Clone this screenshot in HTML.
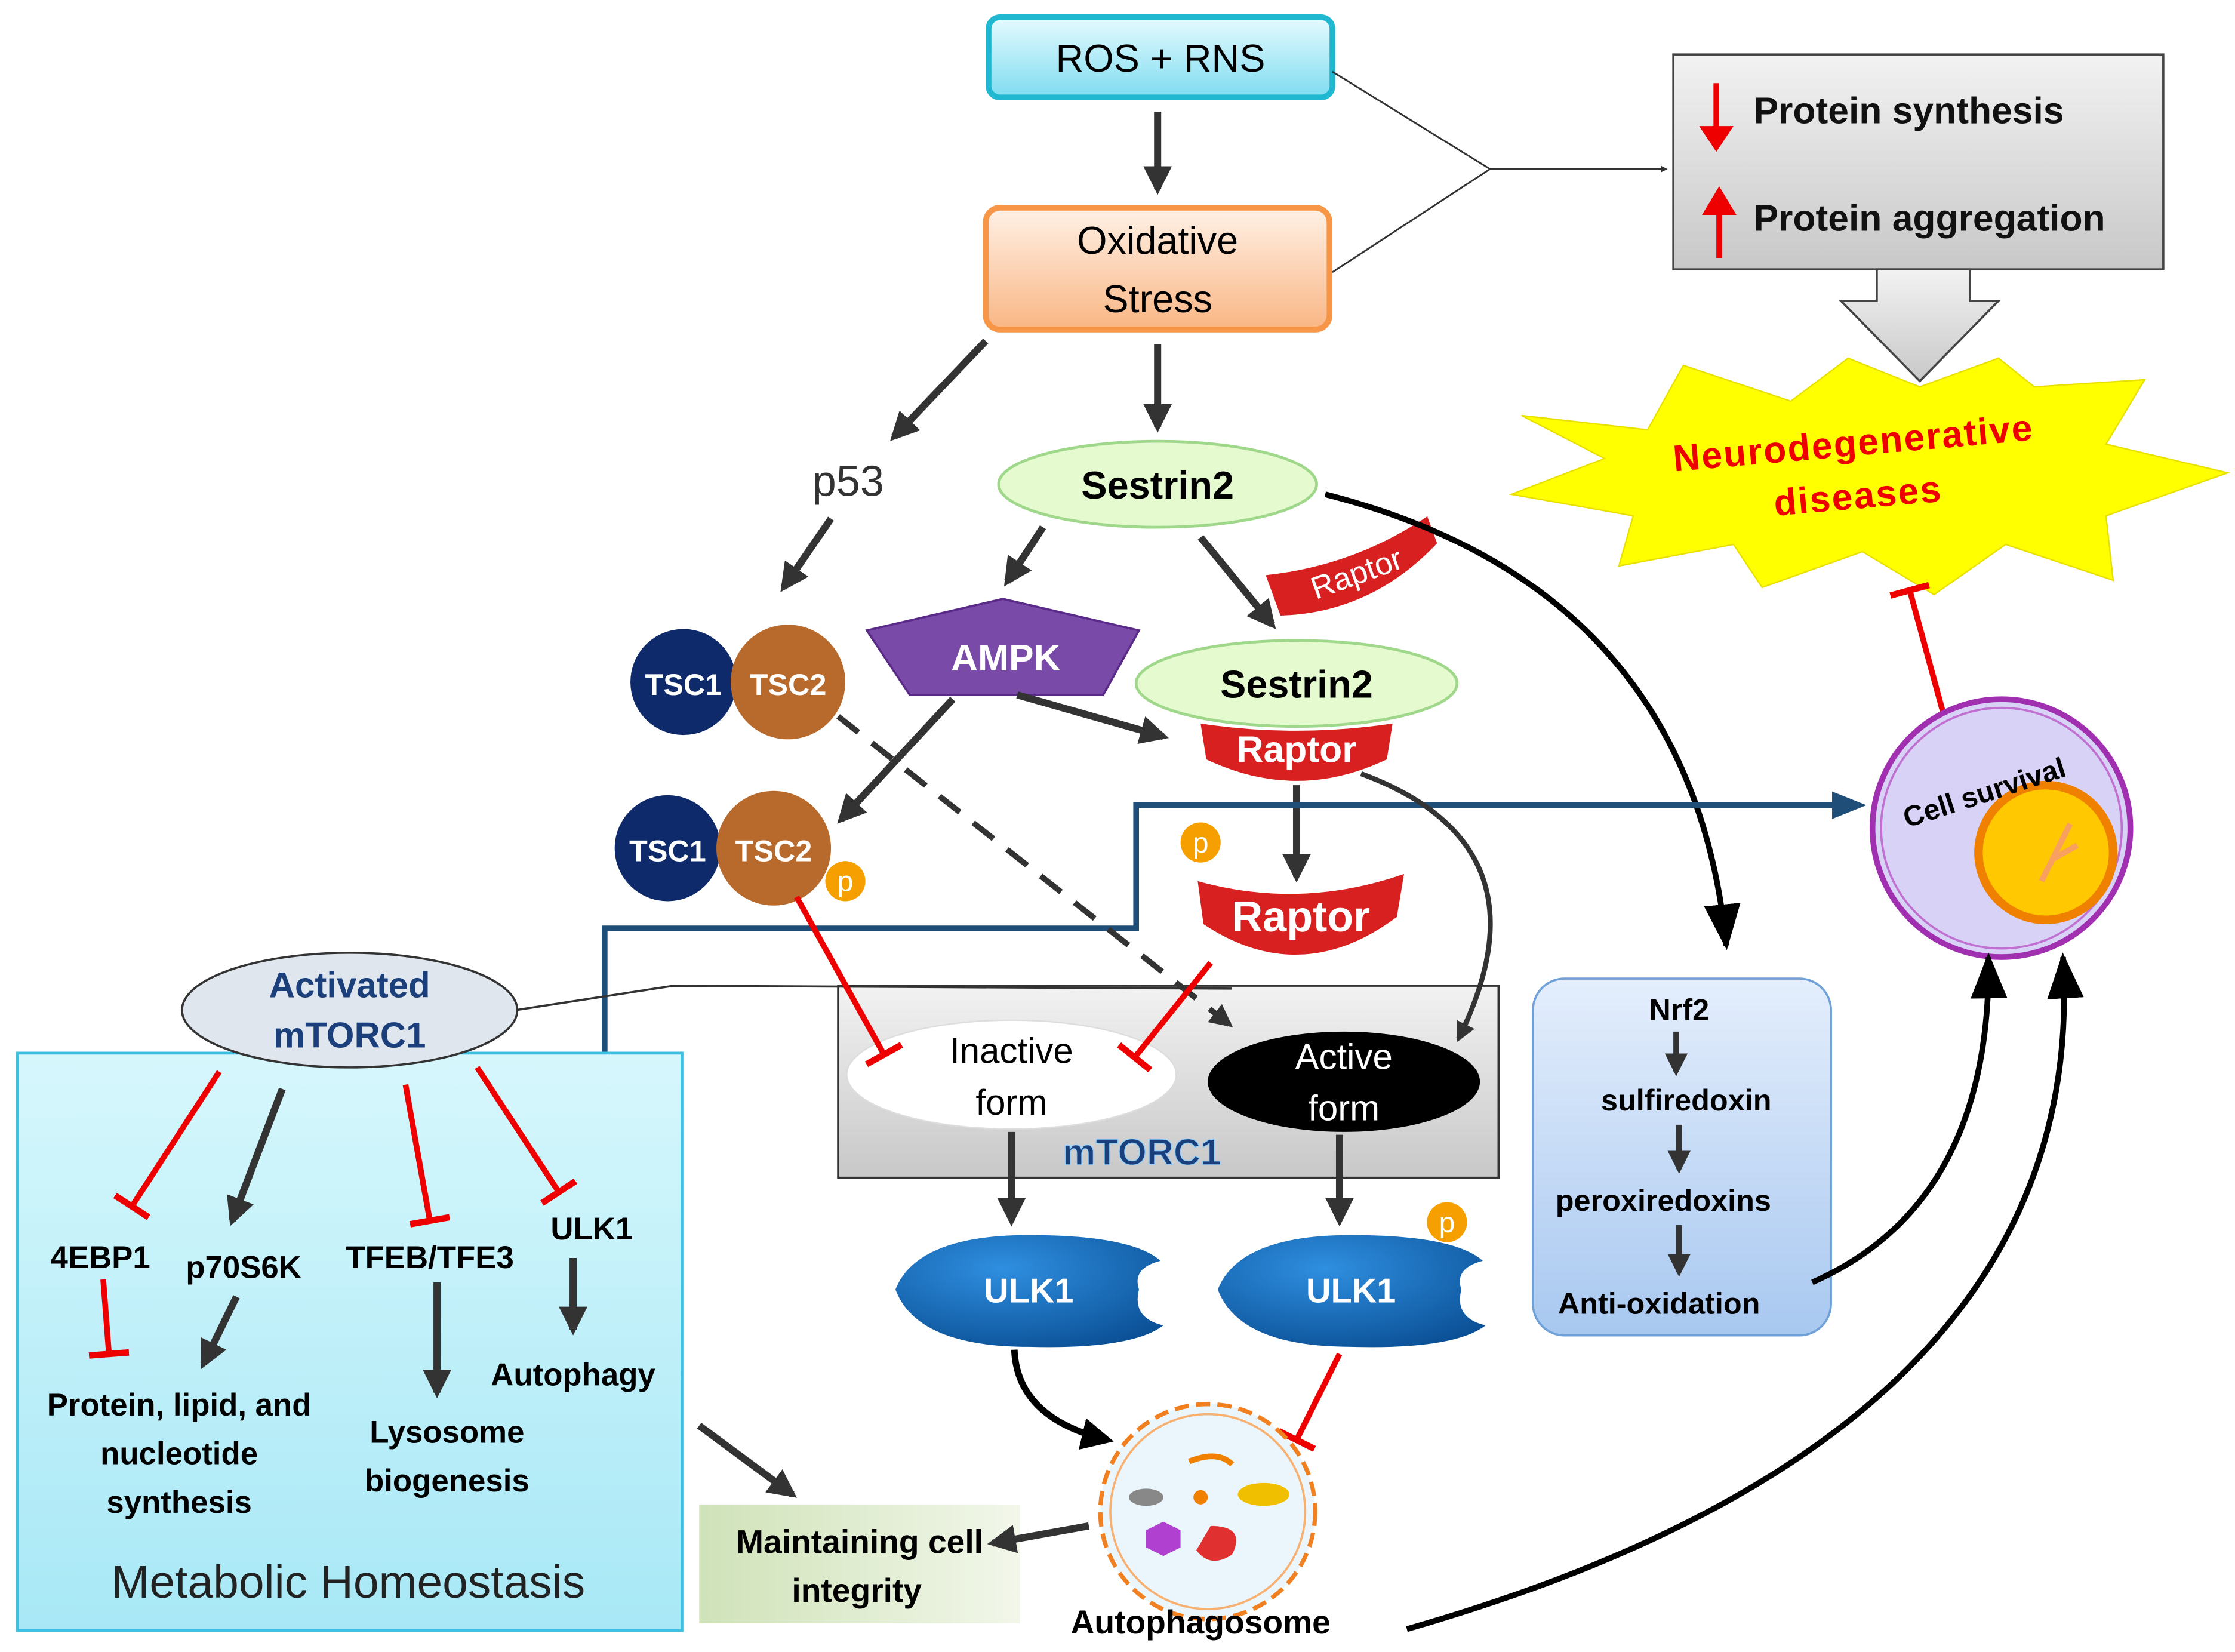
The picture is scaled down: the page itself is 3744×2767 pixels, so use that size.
<!DOCTYPE html>
<html><head><meta charset="utf-8"><style>
html,body{margin:0;padding:0;background:#fff;}
svg{display:block;}
text{font-family:"Liberation Sans",sans-serif;}
</style></head><body>
<svg width="3744" height="2767" viewBox="0 0 1560 1153" xmlns="http://www.w3.org/2000/svg">
<defs>
<marker id="a" viewBox="0 0 10 10" refX="8" refY="5" markerWidth="4" markerHeight="4" orient="auto"><path d="M0,0 L10,5 L0,10 z" fill="#333"/></marker>
<marker id="ak" viewBox="0 0 10 10" refX="8" refY="5" markerWidth="5" markerHeight="5" orient="auto"><path d="M0,0 L10,5 L0,10 z" fill="#000"/></marker>
<marker id="ab" viewBox="0 0 10 10" refX="8" refY="5" markerWidth="6" markerHeight="6" orient="auto"><path d="M0,1 L10,5 L0,9 z" fill="#1f4e79"/></marker>
<marker id="at" viewBox="0 0 10 10" refX="9" refY="5" markerWidth="8" markerHeight="8" orient="auto"><path d="M0,1 L10,5 L0,9 z" fill="#000"/></marker>
<marker id="t" viewBox="0 0 10 10" refX="5" refY="5" markerWidth="7" markerHeight="7" orient="auto"><path d="M5,0 L5,10" stroke="#e00" stroke-width="1.6"/></marker>
<linearGradient id="gc" x1="0" y1="0" x2="0" y2="1"><stop offset="0" stop-color="#e6fbff"/><stop offset="1" stop-color="#7fdcf0"/></linearGradient>
<linearGradient id="go" x1="0" y1="0" x2="0" y2="1"><stop offset="0" stop-color="#fff1e6"/><stop offset="1" stop-color="#f9b684"/></linearGradient>
<linearGradient id="gg" x1="0" y1="0" x2="0" y2="1"><stop offset="0" stop-color="#f2f2f2"/><stop offset="1" stop-color="#c8c8c8"/></linearGradient>
<linearGradient id="gl" x1="0" y1="0" x2="0" y2="1"><stop offset="0" stop-color="#d6f7fc"/><stop offset="1" stop-color="#a8e8f6"/></linearGradient>
<linearGradient id="gn" x1="0" y1="0" x2="0" y2="1"><stop offset="0" stop-color="#e4eefc"/><stop offset="1" stop-color="#a8c8f0"/></linearGradient>
<linearGradient id="gm" x1="0" y1="0" x2="1" y2="0"><stop offset="0" stop-color="#cfe2b8"/><stop offset="1" stop-color="#f2f7ea"/></linearGradient>
<radialGradient id="gu" cx="0.4" cy="0.3" r="0.8"><stop offset="0" stop-color="#2f8fe0"/><stop offset="1" stop-color="#0a4f95"/></radialGradient>
</defs>

<!-- background boxes first -->
<rect x="585" y="688" width="461" height="134" fill="url(#gg)" stroke="#333" stroke-width="1.5"/>
<rect x="488" y="1050" width="224" height="83" fill="url(#gm)"/>

<!-- top -->
<rect x="690" y="12" width="240" height="56" rx="8" fill="url(#gc)" stroke="#1fb8d0" stroke-width="4"/>
<text x="810" y="50" font-size="27" text-anchor="middle">ROS + RNS</text>
<line x1="808" y1="78" x2="808" y2="132" stroke="#333" stroke-width="5" marker-end="url(#a)"/>
<rect x="688" y="145" width="240" height="85" rx="10" fill="url(#go)" stroke="#f79646" stroke-width="4"/>
<text x="808" y="177" font-size="27" text-anchor="middle">Oxidative</text>
<text x="808" y="218" font-size="27" text-anchor="middle">Stress</text>
<path d="M930,50 L1040,118 L930,190" fill="none" stroke="#333" stroke-width="1.2"/>
<line x1="1040" y1="118" x2="1163" y2="118" stroke="#333" stroke-width="1.2" marker-end="url(#a)"/>

<rect x="1168" y="38" width="342" height="150" fill="url(#gg)" stroke="#444" stroke-width="1.5"/>
<line x1="1198" y1="58" x2="1198" y2="92" stroke="#e00" stroke-width="4"/><path d="M1186,88 L1210,88 L1198,106z" fill="#e00"/>
<line x1="1200" y1="180" x2="1200" y2="145" stroke="#e00" stroke-width="4"/><path d="M1188,150 L1212,150 L1200,130z" fill="#e00"/>
<text x="1224" y="86" font-size="26" font-weight="bold" fill="#111">Protein synthesis</text>
<text x="1224" y="161" font-size="26" font-weight="bold" fill="#111">Protein aggregation</text>
<path d="M1310,188 L1375,188 L1375,210 L1395,210 L1340,266 L1285,210 L1310,210z" fill="url(#gg)" stroke="#444" stroke-width="1.5"/>

<polygon points="1062,290 1150,300 1175,255 1250,280 1290,250 1340,270 1395,250 1420,270 1497,265 1470,310 1555,330 1470,360 1475,405 1400,380 1350,415 1300,385 1230,410 1210,380 1130,395 1140,360 1055,345 1120,320" fill="#ffff00" stroke="#e8e000" stroke-width="1"/>
<g transform="rotate(-5 1295 325)">
<text x="1295" y="318" font-size="26" font-weight="bold" fill="#e00" text-anchor="middle" letter-spacing="1">Neurodegenerative</text>
<text x="1295" y="355" font-size="26" font-weight="bold" fill="#e00" text-anchor="middle" letter-spacing="1">diseases</text>
</g>
<line x1="1357" y1="500" x2="1333" y2="412" stroke="#e00" stroke-width="4" marker-end="url(#t)"/>

<!-- cell survival -->
<circle cx="1397" cy="578" r="90" fill="#d9d2f7" stroke="#a030b0" stroke-width="4"/>
<circle cx="1397" cy="578" r="84" fill="none" stroke="#c070d0" stroke-width="1.5"/>
<circle cx="1428" cy="595" r="47" fill="#ffc800" stroke="#f08000" stroke-width="6"/>
<path d="M1425,615 L1445,575 M1432,600 L1450,590" stroke="#f8a060" stroke-width="4"/>
<text x="1385" y="560" font-size="20" font-weight="bold" text-anchor="middle" transform="rotate(-18 1385 553)">Cell survival</text>

<!-- left branch -->
<line x1="688" y1="238" x2="624" y2="305" stroke="#333" stroke-width="5" marker-end="url(#a)"/>
<text x="592" y="346" font-size="30" text-anchor="middle" fill="#333">p53</text>
<line x1="580" y1="362" x2="547" y2="410" stroke="#333" stroke-width="5" marker-end="url(#a)"/>
<line x1="808" y1="240" x2="808" y2="298" stroke="#333" stroke-width="5" marker-end="url(#a)"/>
<ellipse cx="808" cy="338" rx="111" ry="30" fill="#e6fad0" stroke="#9fd88a" stroke-width="2"/>
<text x="808" y="348" font-size="27" font-weight="bold" text-anchor="middle">Sestrin2</text>

<line x1="728" y1="368" x2="703" y2="406" stroke="#333" stroke-width="5" marker-end="url(#a)"/>
<polygon points="700,418 795,440 770,485 635,485 605,440" fill="#7a4aa8" stroke="#5a2a88" stroke-width="1.5"/>
<text x="702" y="468" font-size="26" font-weight="bold" fill="#fff" text-anchor="middle">AMPK</text>
<line x1="838" y1="375" x2="888" y2="436" stroke="#333" stroke-width="5" marker-end="url(#a)"/>
<g transform="rotate(-20 945 395)">
<path d="M885,380 Q945,395 1005,380 L1005,400 Q945,430 885,410z" fill="#d92020"/>
<text x="945" y="408" font-size="22" fill="#fff" text-anchor="middle">Raptor</text></g>
<path d="M925,345 Q1180,410 1205,660" fill="none" stroke="#000" stroke-width="4" marker-end="url(#at)"/>

<ellipse cx="905" cy="477" rx="112" ry="30" fill="#e6fad0" stroke="#9fd88a" stroke-width="2"/>
<text x="905" y="487" font-size="27" font-weight="bold" text-anchor="middle">Sestrin2</text>
<path d="M838,505 Q905,515 972,505 L968,530 Q905,560 842,530z" fill="#d92020"/>
<text x="905" y="532" font-size="26" font-weight="bold" fill="#fff" text-anchor="middle">Raptor</text>
<line x1="710" y1="485" x2="812" y2="514" stroke="#333" stroke-width="5" marker-end="url(#a)"/>

<!-- TSC -->
<circle cx="477" cy="476" r="37" fill="#0f2a6a"/><circle cx="550" cy="476" r="40" fill="#b86a2c"/>
<text x="477" y="485" font-size="21" font-weight="bold" fill="#fff" text-anchor="middle">TSC1</text>
<text x="550" y="485" font-size="21" font-weight="bold" fill="#fff" text-anchor="middle">TSC2</text>
<circle cx="466" cy="592" r="37" fill="#0f2a6a"/><circle cx="540" cy="592" r="40" fill="#b86a2c"/>
<text x="466" y="601" font-size="21" font-weight="bold" fill="#fff" text-anchor="middle">TSC1</text>
<text x="540" y="601" font-size="21" font-weight="bold" fill="#fff" text-anchor="middle">TSC2</text>
<circle cx="590" cy="615" r="14" fill="#f5a000"/><text x="590" y="622" font-size="20" fill="#fff" text-anchor="middle">p</text>
<line x1="665" y1="488" x2="587" y2="572" stroke="#333" stroke-width="5" marker-end="url(#a)"/>

<line x1="905" y1="548" x2="905" y2="612" stroke="#333" stroke-width="5" marker-end="url(#a)"/>
<path d="M836,615 Q908,635 980,610 L975,640 Q908,690 840,645z" fill="#d92020"/>
<text x="908" y="650" font-size="30" font-weight="bold" fill="#fff" text-anchor="middle">Raptor</text>
<circle cx="838" cy="588" r="14" fill="#f5a000"/><text x="838" y="595" font-size="20" fill="#fff" text-anchor="middle">p</text>

<!-- blue path -->
<path d="M422,735 L422,648 L793,648 L793,562 L1298,562" fill="none" stroke="#1f4e79" stroke-width="4" marker-end="url(#ab)"/>

<!-- mTORC1 contents -->
<path d="M360,705 L470,688 L860,690" fill="none" stroke="#333" stroke-width="1.5"/>
<ellipse cx="706" cy="750" rx="115" ry="38" fill="#fff" stroke="#ddd"/>
<text x="706" y="742" font-size="25" text-anchor="middle">Inactive</text>
<text x="706" y="778" font-size="25" text-anchor="middle">form</text>
<ellipse cx="938" cy="755" rx="95" ry="35" fill="#000"/>
<text x="938" y="746" font-size="25" fill="#fff" text-anchor="middle">Active</text>
<text x="938" y="782" font-size="25" fill="#fff" text-anchor="middle">form</text>
<text x="797" y="813" font-size="26" font-weight="bold" fill="#1a3f7a" text-anchor="middle" stroke="#8fd0ff" stroke-width="0.6">mTORC1</text>
<line x1="585" y1="500" x2="858" y2="715" stroke="#333" stroke-width="4" stroke-dasharray="18,12" marker-end="url(#a)"/>
<path d="M950,540 Q1085,590 1018,725" fill="none" stroke="#333" stroke-width="3.5" marker-end="url(#a)"/>
<line x1="556" y1="626" x2="617" y2="736" stroke="#e00" stroke-width="4" marker-end="url(#t)"/>
<line x1="845" y1="672" x2="792" y2="738" stroke="#e00" stroke-width="4" marker-end="url(#t)"/>

<line x1="706" y1="790" x2="706" y2="852" stroke="#333" stroke-width="5" marker-end="url(#a)"/>
<line x1="935" y1="792" x2="935" y2="852" stroke="#333" stroke-width="5" marker-end="url(#a)"/>
<path d="M625,900 Q640,862 718,862 Q790,862 810,880 Q790,885 795,900 Q790,920 812,925 Q790,942 718,940 Q640,940 625,900z" fill="url(#gu)"/>
<text x="718" y="909" font-size="24" font-weight="bold" fill="#fff" text-anchor="middle">ULK1</text>
<path d="M850,900 Q865,862 943,862 Q1015,862 1035,880 Q1015,885 1020,900 Q1015,920 1037,925 Q1015,942 943,940 Q865,940 850,900z" fill="url(#gu)"/>
<text x="943" y="909" font-size="24" font-weight="bold" fill="#fff" text-anchor="middle">ULK1</text>
<circle cx="1010" cy="853" r="14" fill="#f5a000"/><text x="1010" y="860" font-size="20" fill="#fff" text-anchor="middle">p</text>
<path d="M708,942 Q710,990 773,1005" fill="none" stroke="#000" stroke-width="4.5" marker-end="url(#ak)"/>
<line x1="935" y1="945" x2="905" y2="1005" stroke="#e00" stroke-width="4" marker-end="url(#t)"/>

<!-- autophagosome -->
<circle cx="843" cy="1055" r="75" fill="#eaf6fb" stroke="#f08020" stroke-width="3" stroke-dasharray="10,5"/>
<circle cx="843" cy="1055" r="68" fill="none" stroke="#f8b070" stroke-width="1.5"/>
<ellipse cx="800" cy="1045" rx="12" ry="6" fill="#888"/>
<circle cx="838" cy="1045" r="5" fill="#f08000"/>
<ellipse cx="882" cy="1043" rx="18" ry="8" fill="#f0c000"/>
<path d="M830,1020 Q850,1012 860,1022" stroke="#f08000" stroke-width="4" fill="none"/>
<polygon points="800,1068 812,1062 824,1068 824,1080 812,1086 800,1080" fill="#b040d0"/>
<path d="M845,1065 Q870,1065 860,1085 Q845,1095 835,1082z" fill="#e03030"/>
<text x="838" y="1140" font-size="23" font-weight="bold" text-anchor="middle">Autophagosome</text>
<text x="600" y="1084" font-size="23" font-weight="bold" text-anchor="middle">Maintaining cell</text>
<text x="598" y="1118" font-size="23" font-weight="bold" text-anchor="middle">integrity</text>
<line x1="760" y1="1065" x2="693" y2="1077" stroke="#333" stroke-width="5" marker-end="url(#a)"/>
<line x1="488" y1="995" x2="553" y2="1043" stroke="#333" stroke-width="5" marker-end="url(#a)"/>

<!-- left box -->
<rect x="12" y="735" width="464" height="403" fill="url(#gl)" stroke="#40c0e0" stroke-width="2"/>
<ellipse cx="244" cy="705" rx="117" ry="40" fill="#dfe6ee" stroke="#333" stroke-width="1.5"/>
<text x="244" y="696" font-size="25" font-weight="bold" fill="#1a3f7a" text-anchor="middle">Activated</text>
<text x="244" y="731" font-size="25" font-weight="bold" fill="#1a3f7a" text-anchor="middle">mTORC1</text>
<line x1="153" y1="748" x2="92" y2="842" stroke="#e00" stroke-width="4" marker-end="url(#t)"/>
<line x1="197" y1="760" x2="162" y2="852" stroke="#333" stroke-width="5" marker-end="url(#a)"/>
<line x1="283" y1="757" x2="300" y2="852" stroke="#e00" stroke-width="4" marker-end="url(#t)"/>
<line x1="333" y1="745" x2="390" y2="832" stroke="#e00" stroke-width="4" marker-end="url(#t)"/>
<text x="70" y="885" font-size="22" font-weight="bold" text-anchor="middle">4EBP1</text>
<text x="170" y="892" font-size="22" font-weight="bold" text-anchor="middle">p70S6K</text>
<text x="300" y="885" font-size="22" font-weight="bold" text-anchor="middle">TFEB/TFE3</text>
<text x="413" y="865" font-size="22" font-weight="bold" text-anchor="middle">ULK1</text>
<line x1="72" y1="893" x2="76" y2="945" stroke="#e00" stroke-width="4" marker-end="url(#t)"/>
<line x1="165" y1="905" x2="142" y2="952" stroke="#333" stroke-width="5" marker-end="url(#a)"/>
<line x1="305" y1="895" x2="305" y2="972" stroke="#333" stroke-width="5" marker-end="url(#a)"/>
<line x1="400" y1="878" x2="400" y2="928" stroke="#333" stroke-width="5" marker-end="url(#a)"/>
<text x="125" y="988" font-size="22" font-weight="bold" text-anchor="middle">Protein, lipid, and</text>
<text x="125" y="1022" font-size="22" font-weight="bold" text-anchor="middle">nucleotide</text>
<text x="125" y="1056" font-size="22" font-weight="bold" text-anchor="middle">synthesis</text>
<text x="400" y="967" font-size="22" font-weight="bold" text-anchor="middle">Autophagy</text>
<text x="312" y="1007" font-size="22" font-weight="bold" text-anchor="middle">Lysosome</text>
<text x="312" y="1041" font-size="22" font-weight="bold" text-anchor="middle">biogenesis</text>
<text x="243" y="1115" font-size="32" text-anchor="middle" fill="#222">Metabolic Homeostasis</text>

<!-- Nrf2 box -->
<rect x="1070" y="683" width="208" height="249" rx="22" fill="url(#gn)" stroke="#6fa0d8" stroke-width="1.5"/>
<text x="1172" y="712" font-size="21" font-weight="bold" text-anchor="middle">Nrf2</text>
<text x="1177" y="775" font-size="21" font-weight="bold" text-anchor="middle">sulfiredoxin</text>
<text x="1161" y="845" font-size="21" font-weight="bold" text-anchor="middle">peroxiredoxins</text>
<text x="1158" y="917" font-size="21" font-weight="bold" text-anchor="middle">Anti-oxidation</text>
<line x1="1170" y1="720" x2="1170" y2="748" stroke="#333" stroke-width="4" marker-end="url(#a)"/>
<line x1="1172" y1="785" x2="1172" y2="816" stroke="#333" stroke-width="4" marker-end="url(#a)"/>
<line x1="1172" y1="855" x2="1172" y2="888" stroke="#333" stroke-width="4" marker-end="url(#a)"/>
<path d="M1265,895 Q1390,840 1388,668" fill="none" stroke="#000" stroke-width="4" marker-end="url(#at)"/>
<path d="M982,1137 Q1460,1000 1440,668" fill="none" stroke="#000" stroke-width="4" marker-end="url(#at)"/>
</svg>
</body></html>
